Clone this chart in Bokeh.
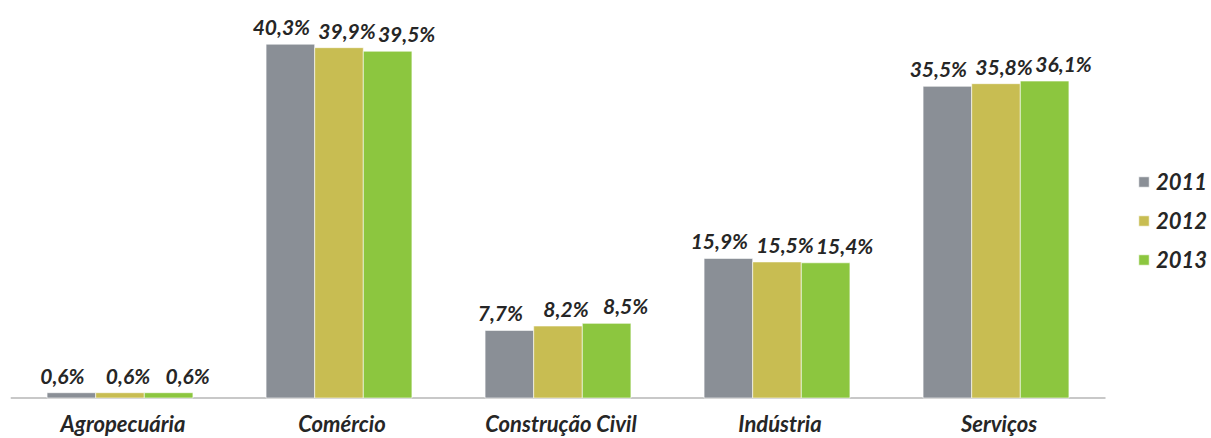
from bokeh.plotting import figure
from bokeh.models import Range1d, ColumnDataSource, Legend, LegendItem
from bokeh.core.properties import value
from bokeh.embed import file_html
from bokeh.resources import INLINE

categories = ["Agropecuária", "Comércio", "Construção Civil", "Indústria", "Serviços"]
years = ["2011", "2012", "2013"]
s2011 = [0.6, 40.3, 7.7, 15.9, 35.5]
s2012 = [0.6, 39.9, 8.2, 15.5, 35.8]
s2013 = [0.6, 39.5, 8.5, 15.4, 36.1]
series = [s2011, s2012, s2013]

colors = ["#8A8F96", "#C8BD52", "#8CC63F"]
label_dx = [-9, 8, 19]
FONT = "Lato"
TXT = "#262626"

W, H = 1211, 438
left = 10
frame_w = W - left
frame_h = H
px_per_cat = 219.0
px_per_pct = 8.78
base_px = 397.5  # baseline distance from top

p = figure(width=W, height=H, output_backend="svg", toolbar_location=None,
           x_range=Range1d(-0.5, -0.5 + frame_w / px_per_cat),
           y_range=Range1d(-(frame_h - base_px) / px_per_pct, base_px / px_per_pct),
           min_border_left=left, min_border_right=0, min_border_top=0,
           min_border_bottom=0)
p.outline_line_color = None
p.xgrid.visible = False
p.ygrid.visible = False
p.xaxis.visible = False
p.yaxis.visible = False
p.background_fill_color = "white"

xs = list(range(len(categories)))
bw = 0.222
offsets = [-bw, 0.0, bw]

# baseline (category axis)
p.segment(x0=[-0.5], x1=[len(categories) - 0.5], y0=[0], y1=[0],
          line_color="#C8C8C8", line_width=2)

items = []
for i, (yr, vals) in enumerate(zip(years, series)):
    src = ColumnDataSource(dict(
        x=[x + offsets[i] for x in xs],
        top=vals,
        lab=[f"{v:.1f}".replace(".", ",") + "%" for v in vals],
    ))
    r = p.vbar(x="x", top="top", bottom=0, width=bw, source=src,
               fill_color=colors[i], line_color="white", line_width=0.6)
    p.text(x="x", y="top", text="lab", source=src,
           text_font=value(FONT), text_font_style="bold italic",
           text_font_size="21px", text_color=TXT,
           text_align="center", text_baseline="bottom",
           x_offset=label_dx[i], y_offset=-5)
    items.append(LegendItem(label=yr, renderers=[r]))

# category labels under the baseline
csrc = ColumnDataSource(dict(x=xs, y=[0] * len(xs), t=categories))
p.text(x="x", y="y", text="t", source=csrc,
       text_font=value(FONT), text_font_style="bold italic",
       text_font_size="22px", text_color=TXT,
       text_align="center", text_baseline="bottom", y_offset=39,
       x_offset=3)

legend = Legend(items=items, location=(1127, 165),
                border_line_alpha=0, background_fill_alpha=0,
                padding=0, margin=0, spacing=12,
                glyph_width=13, glyph_height=13, label_standoff=6,
                label_text_font=FONT, label_text_font_style="bold italic",
                label_text_font_size="22px", label_text_color=TXT,
                label_height=26)
p.add_layout(legend)

open("out.html", "w").write(file_html(p, INLINE))
